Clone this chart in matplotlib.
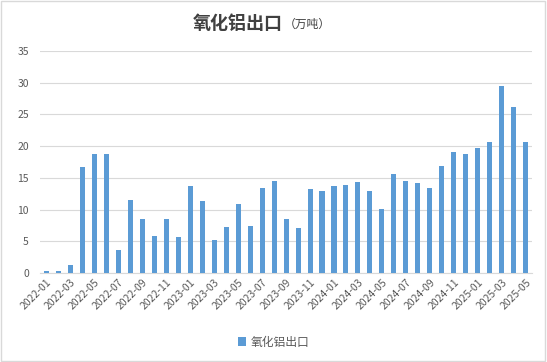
import matplotlib
matplotlib.use("Agg")
import matplotlib.pyplot as plt
from matplotlib.patches import Rectangle

plt.rcParams["font.family"] = ["Noto Sans CJK SC", "DejaVu Sans"]

# monthly alumina exports, 10k tonnes
months = [f"{y}-{m:02d}" for y in (2022, 2023, 2024, 2025) for m in range(1, 13)][:41]
values = [
    0.3, 0.3, 1.3, 16.7, 18.8, 18.8, 3.6, 11.5, 8.5, 5.8, 8.5, 5.7,
    13.7, 11.4, 5.2, 7.3, 10.9, 7.4, 13.4, 14.5, 8.5, 7.1, 13.3, 12.9,
    13.7, 13.9, 14.4, 12.9, 10.1, 15.6, 14.5, 14.2, 13.4, 16.9, 19.1, 18.8,
    19.7, 20.7, 29.5, 26.2, 20.7,
]
yticks = [0, 5, 10, 15, 20, 25, 30, 35]

bar_color = "#5B9BD5"
grid_color = "#D9D9D9"
text_color = "#595959"

fig = plt.figure(figsize=(5.47, 3.62), dpi=100)
ax = fig.add_axes([0.073, 0.246, 0.9, 0.613])

x = list(range(len(values)))
ax.bar(x, values, width=0.42, color=bar_color, label="氧化铝出口", zorder=3)

ax.set_xlim(-0.55, len(values) - 0.45)
ax.set_ylim(0, 35)
ax.set_yticks(yticks)
ax.yaxis.grid(True, color=grid_color, linewidth=0.8, zorder=0)
ax.tick_params(axis="y", length=0, labelsize=7.5, labelcolor=text_color, pad=8)
ax.set_xticks(x[::2])
ax.set_xticklabels(months[::2], rotation=45, ha="right", rotation_mode="anchor")
ax.tick_params(axis="x", length=0, labelsize=7.5, labelcolor=text_color, pad=3)
for side in ("top", "right", "left"):
    ax.spines[side].set_visible(False)
ax.spines["bottom"].set_color(grid_color)

fig.text(0.517, 0.935, "氧化铝出口", fontsize=13, fontweight="bold",
         color="#404040", ha="right", va="center")
fig.text(0.519, 0.932, "（万吨）", fontsize=8.5, color="#404040",
         ha="left", va="center")

fig.legend(loc="center", bbox_to_anchor=(0.5, 0.055), frameon=False,
           fontsize=8.5, handlelength=0.7, handleheight=0.7,
           labelcolor=text_color, handletextpad=0.4)

fig.patches.append(Rectangle((0.002, 0.003), 0.995, 0.994, transform=fig.transFigure,
                             fill=False, edgecolor="#D9D9D9", linewidth=1))

fig.savefig("out.png", dpi=100)
